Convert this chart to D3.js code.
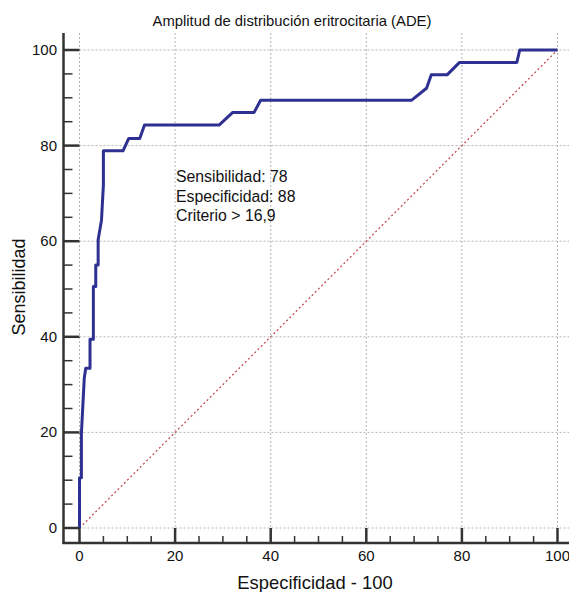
<!DOCTYPE html>
<html>
<head>
<meta charset="utf-8">
<script src="https://cdn.jsdelivr.net/npm/d3@7"></script>
<style>
  body { margin: 0; background: #fff; }
  svg { display: block; font-family: "Liberation Sans", Arial, Helvetica, sans-serif; }
</style>
</head>
<body>
<svg id="roc" width="569" height="592"></svg>
<script>
// ROC curve points (100 - specificity, sensitivity)
var especificidad = [0, 0, 0.4, 0.4, 1.0, 1.3, 2.2, 2.2, 2.9, 2.9, 3.4, 3.4, 3.9, 3.9, 4.6, 5.0, 5.0,
                     9.1, 10.3, 12.6, 13.6, 29.2, 32.0, 36.5, 37.9, 69.5, 72.6, 73.6, 76.9, 79.5,
                     91.5, 92.1, 100];
var sensibilidad = [0, 10.5, 10.5, 19.8, 31.4, 33.4, 33.4, 39.5, 39.5, 50.5, 50.5, 55, 55, 60.3, 64.4, 71.8, 78.9,
                    78.9, 81.5, 81.5, 84.3, 84.3, 86.9, 86.9, 89.5, 89.5, 92.0, 94.8, 94.8, 97.4,
                    97.4, 100, 100];
var diagonal = [0, 100];
var majorTicks = [0, 20, 40, 60, 80, 100];
var notas = ["Sensibilidad: 78", "Especificidad: 88", "Criterio > 16,9"];

var svg = d3.select("#roc");

var x = d3.scaleLinear().domain([0, 100]).range([79.5, 557.5]);
var y = d3.scaleLinear().domain([0, 100]).range([528, 50]);

var axisX = 63.5, axisY = 543, plotTop = 33, plotRight = 569;
var minor = d3.range(0, 101, 5).filter(function(d){ return d % 20 !== 0; });

// grid
var grid = svg.append("g")
  .style("stroke", "#b4b4b4")
  .style("stroke-width", 1)
  .style("stroke-dasharray", "2,2");

grid.selectAll("line.h").data(majorTicks).enter().append("line")
  .attr("x1", x(0)).attr("x2", plotRight)
  .attr("y1", function(d){ return y(d); }).attr("y2", function(d){ return y(d); });

grid.selectAll("line.v").data(majorTicks).enter().append("line")
  .attr("x1", function(d){ return x(d); }).attr("x2", function(d){ return x(d); })
  .attr("y1", plotTop).attr("y2", y(0));

// diagonal reference line
svg.append("line")
  .attr("x1", x(diagonal[0])).attr("y1", y(diagonal[0]))
  .attr("x2", x(diagonal[1])).attr("y2", y(diagonal[1]))
  .style("stroke", "#c0404c")
  .style("stroke-width", 1.2)
  .style("stroke-dasharray", "2,2.5");

// ROC curve
var pts = especificidad.map(function(d, i){ return [d, sensibilidad[i]]; });
svg.append("path")
  .datum(pts)
  .attr("d", d3.line().x(function(d){ return x(d[0]); }).y(function(d){ return y(d[1]); }))
  .style("fill", "none")
  .style("stroke", "#2e3192")
  .style("stroke-width", 3)
  .style("stroke-linejoin", "round");

// axes
var ax = svg.append("g").style("stroke", "#333").style("stroke-width", 2.5);
ax.append("line").attr("x1", axisX).attr("x2", axisX).attr("y1", plotTop).attr("y2", axisY + 1);
ax.append("line").attr("x1", axisX - 1).attr("x2", plotRight).attr("y1", axisY).attr("y2", axisY);

ax.selectAll("line.ym").data(majorTicks).enter().append("line")
  .attr("x1", axisX).attr("x2", x(0))
  .attr("y1", function(d){ return y(d); }).attr("y2", function(d){ return y(d); });
ax.selectAll("line.yn").data(minor).enter().append("line")
  .attr("x1", axisX).attr("x2", axisX + 9)
  .style("stroke-width", 1.5)
  .attr("y1", function(d){ return y(d); }).attr("y2", function(d){ return y(d); });

ax.selectAll("line.xm").data(majorTicks).enter().append("line")
  .attr("x1", function(d){ return x(d); }).attr("x2", function(d){ return x(d); })
  .attr("y1", axisY).attr("y2", y(0));
ax.selectAll("line.xn").data(minor).enter().append("line")
  .attr("x1", function(d){ return x(d); }).attr("x2", function(d){ return x(d); })
  .style("stroke-width", 1.5)
  .attr("y1", axisY).attr("y2", axisY - 7);

// tick labels
svg.selectAll("text.yl").data(majorTicks).enter().append("text")
  .attr("x", 57).attr("y", function(d){ return y(d) + 5; })
  .attr("text-anchor", "end")
  .style("font-size", "15px").style("fill", "#111")
  .text(function(d){ return d; });

svg.selectAll("text.xl").data(majorTicks).enter().append("text")
  .attr("x", function(d){ return x(d); }).attr("y", 561)
  .attr("text-anchor", "middle")
  .style("font-size", "15px").style("fill", "#111")
  .text(function(d){ return d; });

// titles
svg.append("text")
  .attr("x", 292).attr("y", 26)
  .attr("text-anchor", "middle")
  .style("font-size", "14.8px").style("fill", "#111")
  .text("Amplitud de distribución eritrocitaria (ADE)");

svg.append("text")
  .attr("x", 315).attr("y", 589)
  .attr("text-anchor", "middle")
  .style("font-size", "18.4px").style("fill", "#111")
  .text("Especificidad - 100");

svg.append("text")
  .attr("transform", "translate(25,287)rotate(-90)")
  .attr("text-anchor", "middle")
  .style("font-size", "18px").style("fill", "#111")
  .text("Sensibilidad");

// annotation
svg.selectAll("text.nota").data(notas).enter().append("text")
  .attr("x", 176).attr("y", function(d, i){ return 182 + i * 19.5; })
  .style("font-size", "15.8px").style("fill", "#111")
  .text(function(d){ return d; });
</script>
</body>
</html>
